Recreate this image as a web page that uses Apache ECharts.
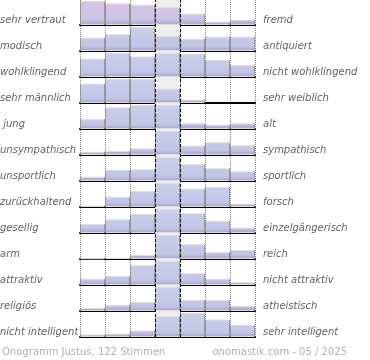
<!DOCTYPE html>
<html><head><meta charset="utf-8">
<script src="https://cdn.jsdelivr.net/npm/echarts@6/dist/echarts.min.js"></script>
<style>html,body{margin:0;padding:0;background:#fff}#c{width:370px;height:360px}</style>
</head><body><div id="c"></div>
<script>
const categories = ['1','2','3','4','5','6','7'];
const leftLabels = ['sehr vertraut','modisch','wohlklingend','sehr männlich',' jung','unsympathisch','unsportlich','zurückhaltend','gesellig','arm','attraktiv','religiös','nicht intelligent'];
const rightLabels = ['fremd','antiquiert','nicht wohlklingend','sehr weiblich','alt','sympathisch','sportlich','forsch','einzelgängerisch','reich','nicht attraktiv','atheistisch','sehr intelligent'];
const vertraut = [24, 21.7, 20.3, 17.7, 11.3, 3.3, 5.3];
const modisch = [13.3, 16.7, 24, 15, 12.3, 14.3, 14.3];
const wohlklingend = [18.3, 24, 20.5, 24, 23, 17, 12];
const maennlich = [19.3, 24, 24, 14.3, 3.3, 0, 0];
const jung = [10, 21.7, 24, 24, 5.7, 4.3, 5.7];
const sympathisch = [3.3, 4, 6.7, 24, 9.3, 12.7, 9.7];
const sportlich = [4.3, 11, 11.7, 24, 16.7, 12.7, 9.7];
const forsch = [1.3, 10, 16, 24, 18.3, 20, 3.3];
const gesellig = [9, 13.7, 19, 24, 19.7, 12.3, 5.3];
const reich = [0.7, 1, 4, 24, 14.7, 7, 9];
const attraktiv = [6.3, 9, 19.7, 24, 11.7, 6.3, 2.7];
const religioes = [3, 6, 9, 24, 11, 11, 5];
const intelligent = [2.5, 3.3, 6.5, 20.8, 24, 17.5, 12];
const footerLeft = 'Onogramm Justus, 122 Stimmen';
const footerRight = 'onomastik.com - 05 / 2025';

const rows = [vertraut, modisch, wohlklingend, maennlich, jung, sympathisch, sportlich, forsch, gesellig, reich, attraktiv, religioes, intelligent];
const N = rows.length;
const grids = [], xAxes = [], yAxes = [], series = [], graphics = [];
const borderGrad = new echarts.graphic.LinearGradient(0, 0, 1, 0, [
  {offset: 0, color: '#969696'}, {offset: 0.04, color: '#969696'},
  {offset: 0.06, color: '#dcdce4'}, {offset: 0.94, color: '#dcdce4'},
  {offset: 0.96, color: '#969696'}, {offset: 1, color: '#969696'}]);
for (let i = 0; i < N; i++) {
  const top = 1 + 26 * i, base = top + 24;
  grids.push({left: 80, width: 175, top: top, height: 24});
  xAxes.push({type: 'category', gridIndex: i, data: categories,
    axisLine: {show: true, lineStyle: {color: '#000', width: 2}},
    axisTick: {show: false}, axisLabel: {show: false}, splitLine: {show: false}});
  yAxes.push({type: 'value', gridIndex: i, min: 0, max: 24, show: false});
  const stops = i === 0
    ? [{offset: 0, color: '#dbc3e4'}, {offset: 0.75, color: '#cbc6e7'}, {offset: 1, color: '#b0a6d4'}]
    : [{offset: 0, color: '#c9d0eb'}, {offset: 0.8, color: '#c1c6e6'}, {offset: 1, color: '#aaa0d0'}];
  series.push({type: 'bar', xAxisIndex: i, yAxisIndex: i, data: rows[i].map(v => v === 0 ? null : v), barCategoryGap: '0%', z: 3,
    itemStyle: {color: new echarts.graphic.LinearGradient(0, top, 0, base, stops, true), borderColor: borderGrad, borderWidth: 1}});
  graphics.push({type: 'text', x: 0, y: base - 5, style: {text: leftLabels[i], font: 'italic 10px "DejaVu Sans"', fill: '#626262', textVerticalAlign: 'middle'}});
  graphics.push({type: 'text', x: 263, y: base - 5, style: {text: rightLabels[i], font: 'italic 10px "DejaVu Sans"', fill: '#626262', textVerticalAlign: 'middle'}});
}
grids.push({left: 80, width: 175, top: 0, height: 337});
xAxes.push({type: 'value', gridIndex: N, min: 0, max: 7, interval: 1,
  axisLine: {show: false}, axisTick: {show: false}, axisLabel: {show: false},
  splitLine: {show: true, lineStyle: {color: '#888', type: [1, 1], width: 1}}});
yAxes.push({type: 'value', gridIndex: N, min: 0, max: 1, show: false});
series.push({type: 'line', xAxisIndex: N, yAxisIndex: N, data: [], z: 1, silent: true,
  markArea: {silent: true, itemStyle: {color: '#eeeeee'}, data: [[{xAxis: 3}, {xAxis: 4}]]}});
series.push({type: 'line', xAxisIndex: N, yAxisIndex: N, data: [], z: 6, silent: true,
  markLine: {silent: true, symbol: ['none', 'none'], label: {show: false},
    lineStyle: {color: '#000', type: [3, 2], width: 1}, data: [{xAxis: 3}, {xAxis: 4}]}});
graphics.push({type: 'text', x: 2, y: 352, style: {text: footerLeft, font: '10px "DejaVu Sans"', fill: '#b0b0b0', textVerticalAlign: 'middle'}});
graphics.push({type: 'text', x: 347, y: 352, style: {text: footerRight, font: '10px "DejaVu Sans"', fill: '#b0b0b0', textVerticalAlign: 'middle', textAlign: 'right'}});

const chart = echarts.init(document.getElementById('c'), null, {renderer: 'canvas'});
chart.setOption({animation: false, grid: grids, xAxis: xAxes, yAxis: yAxes, series: series, graphic: graphics});
</script></body></html>
